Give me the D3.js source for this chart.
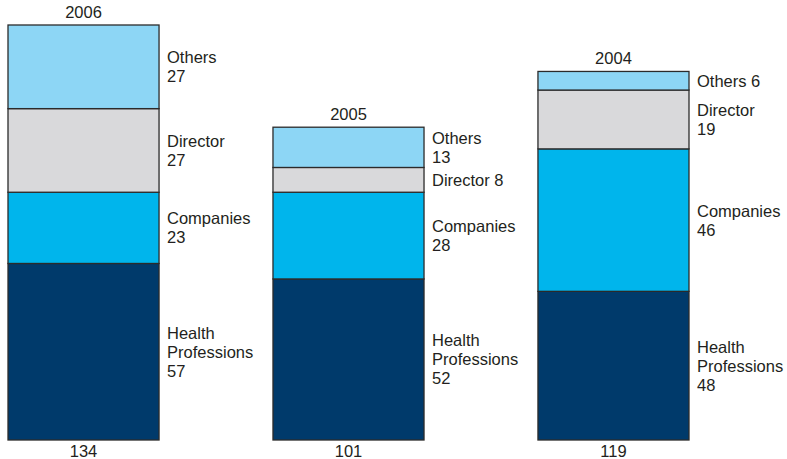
<!DOCTYPE html>
<html>
<head>
<meta charset="utf-8">
<script src="https://cdn.jsdelivr.net/npm/d3@7"></script>
<style>
  body { margin: 0; background: #fff; }
  text { font-family: "Liberation Sans", Arial, sans-serif; fill: #231f20; }
</style>
</head>
<body>
<div id="chart"></div>
<script>
const width = 787;
const height = 459;

// Data (bottom segment first).
const years = ["2006", "2005", "2004"];
const categories = ["Health Professions", "Companies", "Director", "Others"];
const healthProfessions = [57, 52, 48];
const companies = [23, 28, 46];
const director = [27, 8, 19];
const others = [27, 13, 6];

const colors = ["#003a6b", "#00b5ec", "#d9d9db", "#8dd6f5"];

const rows = years.map((year, i) => ({
  year,
  "Health Professions": healthProfessions[i],
  "Companies": companies[i],
  "Director": director[i],
  "Others": others[i]
}));

const svg = d3.select("#chart")
  .append("svg")
  .attr("width", width)
  .attr("height", height);

// Bar positions from a band scale, heights from a linear scale.
const x = d3.scaleBand()
  .domain(years)
  .range([8, 689])
  .paddingInner(0.43)
  .paddingOuter(0);
const bw = x.bandwidth();

const totals = rows.map(r => d3.sum(categories, c => r[c]));
const y = d3.scaleLinear()
  .domain([0, d3.max(totals)])
  .range([440, 25]);

const series = d3.stack().keys(categories)(rows);

const layers = svg.selectAll("g.layer")
  .data(series)
  .join("g")
  .attr("class", "layer")
  .attr("fill", (d, i) => colors[i]);

layers.selectAll("rect")
  .data(d => d)
  .join("rect")
  .attr("x", d => x(d.data.year))
  .attr("y", d => y(d[1]))
  .attr("width", bw)
  .attr("height", d => y(d[0]) - y(d[1]))
  .attr("stroke", "#2b2b2b")
  .attr("stroke-width", 1.3);

// Segment labels to the right of each bar.
const fs = 16.5;
const lineH = 19;
series.forEach((s, si) => {
  const name = categories[si];
  s.forEach(d => {
    const value = d[1] - d[0];
    const segH = y(d[0]) - y(d[1]);
    let lines;
    if (segH < 40) lines = [name + " " + value];
    else if (name === "Health Professions") lines = ["Health", "Professions", String(value)];
    else lines = [name, String(value)];
    const lx = x(d.data.year) + bw + 8;
    const mid = (y(d[0]) + y(d[1])) / 2;
    const t = svg.append("text")
      .attr("x", lx)
      .attr("y", mid - (lines.length - 1) * lineH / 2 + 6)
      .attr("font-size", fs);
    lines.forEach((l, li) => {
      t.append("tspan")
        .attr("x", lx)
        .attr("dy", li === 0 ? 0 : lineH)
        .text(l);
    });
  });
});

// Year above, total below.
rows.forEach((r, i) => {
  const cx = x(r.year) + bw / 2;
  svg.append("text")
    .attr("x", cx)
    .attr("y", y(totals[i]) - 7)
    .attr("text-anchor", "middle")
    .attr("font-size", fs)
    .text(r.year);
  svg.append("text")
    .attr("x", cx)
    .attr("y", 457)
    .attr("text-anchor", "middle")
    .attr("font-size", fs)
    .text(totals[i]);
});
</script>
</body>
</html>
